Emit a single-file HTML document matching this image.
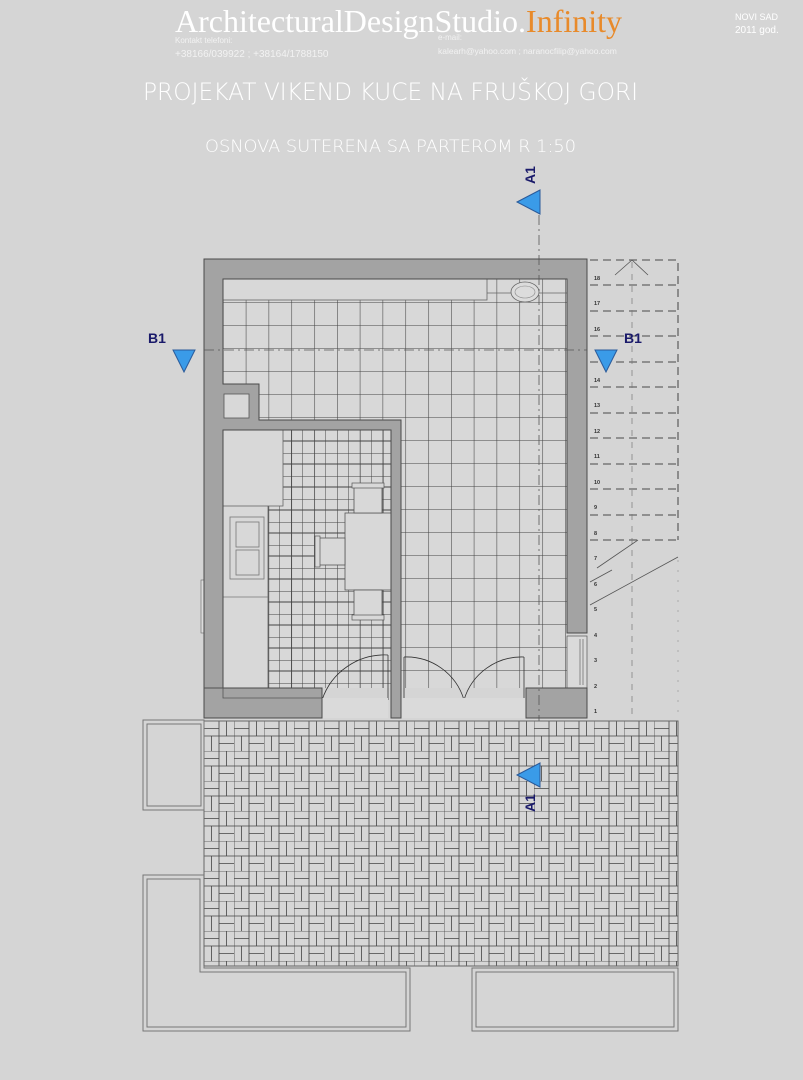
<!DOCTYPE html>
<html><head><meta charset="utf-8"><style>
html,body{margin:0;padding:0;background:#d5d5d5;}
svg{display:block}
</style></head><body>
<svg width="803" height="1080" viewBox="0 0 803 1080" xmlns="http://www.w3.org/2000/svg">
<defs>
<pattern id="big" x="223" y="279" width="22.8" height="23" patternUnits="userSpaceOnUse">
<path d="M0 0V23M0 0H22.8" stroke="#444" stroke-width="1.1" fill="none"/>
</pattern>
<pattern id="small" x="268" y="430" width="11.5" height="11.5" patternUnits="userSpaceOnUse">
<path d="M0 0V11.5M0 0H11.5" stroke="#444" stroke-width="1" fill="none"/>
</pattern>
<pattern id="pave" x="204" y="721" width="30" height="30" patternUnits="userSpaceOnUse">
<rect width="30" height="30" fill="#d6d6d6"/>
<g stroke="#444" stroke-width="0.8" fill="none">
<path d="M0 0H30M0 15H30M0 0V30M15 0V30"/>
<path d="M0 7.5H15M22.5 0V15M7.5 15V30M15 22.5H30"/>
</g>
</pattern>
</defs>
<rect width="803" height="1080" fill="#d5d5d5"/>

<!-- header -->
<text x="175" y="32" font-family="Liberation Serif, serif" font-size="32" fill="#fff">ArchitecturalDesignStudio.<tspan fill="#e88a2a">Infinity</tspan></text>
<text x="175" y="43" font-family="Liberation Sans, sans-serif" font-size="8" fill="#f2f2f2">Kontakt telefoni:</text>
<text x="175" y="57" font-family="Liberation Sans, sans-serif" font-size="10" fill="#f2f2f2">+38166/039922 ; +38164/1788150</text>
<text x="438" y="40" font-family="Liberation Sans, sans-serif" font-size="8" fill="#f2f2f2">e-mail:</text>
<text x="438" y="54" font-family="Liberation Sans, sans-serif" font-size="8.5" fill="#f2f2f2">kalearh@yahoo.com ; naranocfilip@yahoo.com</text>
<text x="735" y="20" font-family="Liberation Sans, sans-serif" font-size="9" fill="#fff">NOVI SAD</text>
<text x="735" y="33" font-family="Liberation Sans, sans-serif" font-size="10" fill="#fff">2011 god.</text>
<text x="143" y="100" font-family="DejaVu Sans, sans-serif" font-size="24" font-weight="200" fill="#fff" textLength="495" lengthAdjust="spacingAndGlyphs">PROJEKAT VIKEND KUCE NA FRUŠKOJ GORI</text>
<text x="205" y="152" font-family="DejaVu Sans, sans-serif" font-size="17" font-weight="200" fill="#fff" textLength="371" lengthAdjust="spacingAndGlyphs">OSNOVA SUTERENA SA PARTEROM R 1:50</text>

<!-- floors -->
<rect x="223" y="279" width="344" height="409" fill="#d8d8d8"/>
<rect x="223" y="279" width="344" height="409" fill="url(#big)"/>
<rect x="268" y="430" width="123" height="258" fill="url(#small)"/>
<rect x="223" y="279" width="264" height="21" fill="#d8d8d8" stroke="#666" stroke-width="0.8"/>
<path d="M487 293H567" stroke="#666" stroke-width="0.8"/>
<ellipse cx="525" cy="292" rx="14" ry="10" fill="#dcdcdc" stroke="#666" stroke-width="0.8"/>
<ellipse cx="525" cy="292" rx="10" ry="6" fill="none" stroke="#888" stroke-width="0.6"/>
<rect x="223" y="430" width="45" height="258" fill="#d8d8d8" stroke="#666" stroke-width="0.8"/>
<rect x="223" y="430" width="60" height="76" fill="#d8d8d8" stroke="#666" stroke-width="0.8"/>
<rect x="230" y="517" width="34" height="62" fill="none" stroke="#777" stroke-width="0.8"/>
<rect x="236" y="522" width="23" height="25" fill="none" stroke="#777" stroke-width="0.8"/>
<rect x="236" y="550" width="23" height="25" fill="none" stroke="#777" stroke-width="0.8"/>
<path d="M223 597H268" stroke="#777" stroke-width="0.8"/>
<rect x="345" y="513" width="46" height="77" fill="#d8d8d8" stroke="#555" stroke-width="0.8"/>
<rect x="354" y="485" width="28" height="28" fill="#d8d8d8" stroke="#555" stroke-width="0.8"/>
<rect x="352" y="483" width="32" height="5" fill="#d8d8d8" stroke="#555" stroke-width="0.7"/>
<rect x="354" y="590" width="28" height="28" fill="#d8d8d8" stroke="#555" stroke-width="0.8"/>
<rect x="352" y="615" width="32" height="5" fill="#d8d8d8" stroke="#555" stroke-width="0.7"/>
<rect x="318" y="538" width="27" height="27" fill="#d8d8d8" stroke="#555" stroke-width="0.8"/>
<rect x="315" y="536" width="5" height="31" fill="#d8d8d8" stroke="#555" stroke-width="0.7"/>

<g fill="none" stroke="#333" stroke-width="0.8">
<path d="M388 655V700M322 700A66 66 0 0 1 388 655"/>
<path d="M404 657V700M404 657A60 60 0 0 1 464 700"/>
<path d="M524 657V700M524 657A60 60 0 0 0 464 700"/>
</g>
<rect x="322" y="698" width="66" height="20" fill="#dadada"/>
<rect x="401" y="698" width="125" height="20" fill="#dadada"/>
<rect x="204" y="633" width="19" height="55" fill="#dadada" stroke="#555" stroke-width="0.7"/>
<path d="M209 636V685M213 636V685" stroke="#666" stroke-width="0.7"/>
<rect x="567" y="636" width="20" height="52" fill="#dadada" stroke="#555" stroke-width="0.7"/>
<path d="M580 639V685M583 639V685" stroke="#666" stroke-width="0.7"/>
<rect x="201" y="580" width="3" height="53" fill="#ddd" stroke="#666" stroke-width="0.6"/>

<g fill="#a3a3a3" stroke="#4a4a4a" stroke-width="1">
<path d="M204 259H587V633H567V279H223V384H259V420H401V718H391V430H223V688H204Z"/>
<rect x="204" y="688" width="118" height="30"/>
<rect x="526" y="688" width="61" height="30"/>
</g>
<rect x="224" y="394" width="25" height="24" fill="#d8d8d8" stroke="#555" stroke-width="0.8"/>
<path d="M204 688H223V698H322" fill="none" stroke="#555" stroke-width="0.8"/>

<path d="M204 350H587" stroke="#555" stroke-width="0.8" stroke-dasharray="10,4,2,4" fill="none"/>
<path d="M539 215V800" stroke="#555" stroke-width="0.8" stroke-dasharray="10,4,2,4" fill="none"/>

<g stroke="#666" stroke-width="1.3" fill="none" stroke-dasharray="8,5">
<path d="M590 260H678V540"/>
<path d="M590 285H678M590 311H678M590 336H678M590 362H678M590 387H678M590 413H678M590 438H678M590 464H678M590 489H678M590 515H678M590 540H678"/>
</g>
<path d="M632 262V600M632 600V720" stroke="#777" stroke-width="0.7" stroke-dasharray="6,6" fill="none"/>
<path d="M678 560V720" stroke="#999" stroke-width="0.7" stroke-dasharray="2,8" fill="none"/>
<path d="M615 275L632 260L648 275" stroke="#555" stroke-width="0.8" fill="none"/>
<path d="M590 605L678 557M597 568L638 540M590 582L612 570" stroke="#555" stroke-width="0.8" fill="none"/>
<g font-family="Liberation Sans, sans-serif" font-size="5.5" font-weight="bold" fill="#333">
<text x="594" y="280">18</text><text x="594" y="305">17</text><text x="594" y="331">16</text>
<text x="594" y="382">14</text><text x="594" y="407">13</text><text x="594" y="433">12</text>
<text x="594" y="458">11</text><text x="594" y="484">10</text><text x="594" y="509">9</text>
<text x="594" y="535">8</text><text x="594" y="560">7</text><text x="594" y="586">6</text>
<text x="594" y="611">5</text><text x="594" y="637">4</text><text x="594" y="662">3</text>
<text x="594" y="688">2</text><text x="594" y="713">1</text>
</g>

<rect x="204" y="721" width="474" height="245" fill="url(#pave)" stroke="#666" stroke-width="1"/>
<g fill="none" stroke="#777" stroke-width="1">
<rect x="143" y="720" width="61" height="90"/>
<rect x="147" y="724" width="54" height="82"/>
<path d="M204 966V968H410V1031H143V875H204"/>
<path d="M200 879H147V1027H406V972H200Z"/>
<rect x="472" y="968" width="206" height="63"/>
<rect x="476" y="972" width="198" height="55"/>
</g>

<g fill="#3a9be8" stroke="#2a5a9a" stroke-width="1">
<path d="M517 202L540 190V214Z"/>
<path d="M517 775L540 763V787Z"/>
<path d="M173 350H195L184 372Z"/>
<path d="M595 350H617L606 372Z"/>
</g>
<g font-family="Liberation Sans, sans-serif" font-size="14" font-weight="bold" fill="#1a1a6a">
<text x="148" y="343">B1</text>
<text x="624" y="343">B1</text>
<text transform="translate(535,184) rotate(-90)">A1</text>
<text transform="translate(535,812) rotate(-90)">A1</text>
</g>
</svg>
</body></html>
